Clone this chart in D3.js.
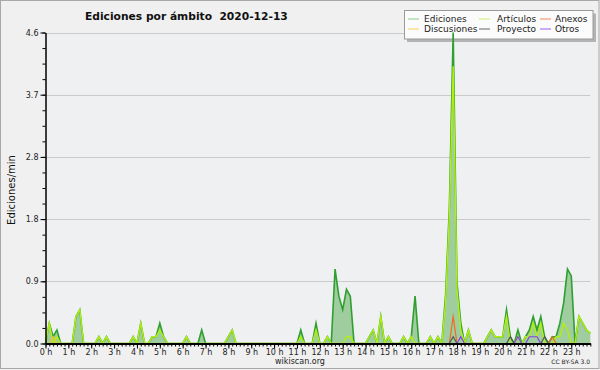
<!DOCTYPE html>
<html><head><meta charset="utf-8">
<script src="https://cdn.jsdelivr.net/npm/d3@7"></script>
<style>body{margin:0;background:#f0f0f0} svg{display:block}</style>
</head><body><svg id="c" width="600" height="370"></svg>
<script>
// ---- data: 10-minute buckets, edits per minute ----
const hourLabels = ["0 h","1 h","2 h","3 h","4 h","5 h","6 h","7 h","8 h","9 h","10 h","11 h",
  "12 h","13 h","14 h","15 h","16 h","17 h","18 h","19 h","20 h","21 h","22 h","23 h"];
const yTickValues = [0, 0.92, 1.84, 2.76, 3.68, 4.6];
const yTickLabels = ["0.0","0.9","1.8","2.8","3.7","4.6"];
const seriesNames = ["Ediciones","Discusiones","Artículos","Proyecto","Anexos","Otros"];

const ediciones = [
  0,0.3,0.1,0.2,0,0,0,0,0.4,0.5,0,0,
  0,0,0.1,0,0.1,0,0,0,0,0,0,0.1,
  0,0.3,0,0,0.1,0.1,0.3,0.1,0,0,0,0,
  0,0.1,0,0,0,0.2,0,0,0,0,0,0,
  0.1,0.2,0,0,0,0,0,0,0,0,0,0,
  0,0,0,0,0,0,0,0.2,0,0,0,0.3,
  0,0,0.1,0,1.1,0.7,0.5,0.8,0.7,0,0,0,
  0,0.1,0.2,0,0.4,0,0.1,0,0,0,0.1,0,
  0.1,0.7,0,0,0,0.1,0,0.1,0,0.7,2.0,4.6,
  0.9,0.3,0,0.2,0,0,0,0,0.1,0.2,0.1,0.1,
  0.1,0.5,0.1,0,0.2,0,0.1,0.2,0.4,0.2,0.4,0.1,
  0,0.1,0.1,0.3,0.6,1.1,1.0,0,0.4,0.3,0.2,0.15
];
const articulos = [
  0,0.3,0,0.1,0,0,0,0,0.4,0.5,0,0,
  0,0,0.1,0,0.1,0,0,0,0,0,0,0.1,
  0,0.3,0,0,0.1,0.1,0.2,0.1,0,0,0,0,
  0,0.1,0,0,0,0,0,0,0,0,0,0,
  0.1,0.2,0,0,0,0,0,0,0,0,0,0,
  0,0,0,0,0,0,0,0.1,0,0,0,0.2,
  0,0,0.1,0,0,0,0,0.1,0.1,0,0,0,
  0,0.1,0.2,0,0.4,0,0.1,0,0,0,0.1,0,
  0.1,0,0,0,0,0.1,0,0.1,0,0.6,1.9,4.1,
  0.8,0.2,0,0.2,0,0,0,0,0.1,0.2,0.1,0.1,
  0.1,0.4,0,0,0.1,0,0.1,0.1,0.3,0.1,0.3,0,
  0,0,0.1,0.1,0.3,0.2,0,0,0.4,0.3,0.2,0.15
];
const discusiones = [
  0,0,0.1,0,0,0,0,0,0,0,0,0,
  0,0,0,0,0,0,0,0,0,0,0,0,
  0,0,0,0,0,0,0,0,0,0,0,0,
  0,0,0,0,0,0,0,0,0,0,0,0,
  0,0,0,0,0,0,0,0,0,0,0,0,
  0,0,0,0,0,0,0,0,0,0,0,0,
  0,0,0,0,0,0,0,0,0,0,0,0,
  0,0,0,0,0,0,0,0,0,0,0,0,
  0,0,0,0,0,0,0,0,0,0,0,0,
  0,0,0,0,0,0,0,0,0,0,0,0,
  0,0,0,0,0,0,0,0,0,0,0,0,
  0,0,0,0,0,0,0,0,0,0,0,0
];
const anexos = [
  0,0,0,0,0,0,0,0,0,0,0,0,
  0,0,0,0,0,0,0,0,0,0,0,0,
  0,0,0,0,0,0,0,0,0,0,0,0,
  0,0,0,0,0,0,0,0,0,0,0,0,
  0,0,0,0,0,0,0,0,0,0,0,0,
  0,0,0,0,0,0,0,0,0,0,0,0,
  0,0,0,0,0,0,0,0,0,0,0,0,
  0,0,0,0,0,0,0,0,0,0,0,0,
  0,0,0,0,0,0,0,0,0,0,0,0.4,
  0,0,0,0,0,0,0,0,0,0,0,0,
  0,0,0,0,0,0,0,0,0,0,0,0,
  0,0.1,0,0,0,0,0,0,0,0,0,0
];
const proyecto = [
  0,0,0,0,0,0,0,0,0,0,0,0,
  0,0,0,0,0,0,0,0,0,0,0,0,
  0,0,0,0,0,0,0,0,0,0,0,0,
  0,0,0,0,0,0,0,0,0,0,0,0,
  0,0,0,0,0,0,0,0,0,0,0,0,
  0,0,0,0,0,0,0,0,0,0,0,0,
  0,0,0,0,0,0,0,0,0,0,0,0,
  0,0,0,0,0,0,0,0,0,0,0,0,
  0,0,0,0,0,0,0,0,0,0,0,0.1,
  0,0,0,0,0,0,0,0,0,0,0,0,
  0,0,0.1,0,0,0,0,0,0,0,0,0.1,
  0,0,0,0,0,0,0,0,0,0,0,0
];
const otros = [
  0,0,0,0,0,0,0,0,0,0,0,0,
  0,0,0,0,0,0,0,0,0,0,0,0,
  0,0,0,0,0,0,0,0,0,0,0,0,
  0,0,0,0,0,0,0,0,0,0,0,0,
  0,0,0,0,0,0,0,0,0,0,0,0,
  0,0,0,0,0,0,0,0,0,0,0,0,
  0,0,0,0,0,0,0,0,0,0,0,0,
  0,0,0,0,0,0,0,0,0,0,0,0,
  0,0,0,0,0,0,0,0,0,0,0,0,
  0,0.1,0,0,0,0,0,0,0,0,0,0,
  0,0,0,0,0.1,0,0,0.1,0.1,0.1,0,0,
  0,0,0,0,0,0,0,0,0,0,0,0
];

// ---- drawing ----
const svg = d3.select("#c");
const FONT = "DejaVu Sans, sans-serif";
const colors = {Ediciones:"#2f9f2f", Discusiones:"#f2c530", "Artículos":"#b2ee10",
  Proyecto:"#555555", Anexos:"#f26a1b", Otros:"#8a3cf0"};
const legendColors = {Ediciones:"#88cc88", Discusiones:"#f7d45a", "Artículos":"#cbef6a",
  Proyecto:"#666666", Anexos:"#f0845a", Otros:"#9a5cf0"};

const n = ediciones.length;
const x = d3.scaleLinear().domain([0, (n-1)/6]).range([45.5, 45.5 + (n-1)*3.81]);
const y = d3.scaleLinear().domain([0, 4.6]).range([343.5, 32.5]);

svg.append("rect").attr("width",600).attr("height",370).attr("fill","#f0f0f0");
svg.append("rect").attr("x",46).attr("y",32).attr("width",x.range()[1]-46).attr("height",311).attr("fill","#eef0f2");
svg.append("rect").attr("x",0.5).attr("y",0.5).attr("width",598.5).attr("height",368)
  .attr("fill","none").attr("stroke","#a8a8a8");

// gridlines
svg.append("g").selectAll("line").data(yTickValues.slice(1)).join("line")
  .attr("x1",46).attr("x2",x.range()[1]).attr("y1",d=>Math.round(y(d))+0.5).attr("y2",d=>Math.round(y(d))+0.5)
  .attr("stroke","#cacaca").attr("stroke-width",1);

// legend
const lg = svg.append("g");
lg.append("rect").attr("x",407).attr("y",13.5).attr("width",189).attr("height",28.5).attr("fill","#b4b4b4");
lg.append("rect").attr("x",404.5).attr("y",10.5).attr("width",188.5).attr("height",28.5)
  .attr("fill","#fbfbfb").attr("stroke","#9a9a9a");
const legendLayout = [
  {name:"Ediciones", col:0, row:0}, {name:"Discusiones", col:0, row:1},
  {name:"Artículos", col:1, row:0}, {name:"Proyecto", col:1, row:1},
  {name:"Anexos", col:2, row:0}, {name:"Otros", col:2, row:1}];
const colSw = [408, 479, 540], colTx = [424, 497, 555];
legendLayout.forEach(e=>{
  const cy = 19 + e.row*10;
  lg.append("line").attr("x1",colSw[e.col]).attr("x2",colSw[e.col]+11).attr("y1",cy).attr("y2",cy)
    .attr("stroke",legendColors[e.name]).attr("stroke-width",1);
  lg.append("text").attr("x",colTx[e.col]).attr("y",cy+3.2).text(e.name)
    .attr("font-family",FONT).attr("font-size",9).attr("fill","#222");
});

// area + lines
const line = d3.line().x((d,i)=>x(i/6)).y(d=>y(d));
const area = d3.area().x((d,i)=>x(i/6)).y0(y(0)).y1(d=>y(d));
svg.append("path").attr("d",area(ediciones)).attr("fill","#9fcd9f");
const series = [["Ediciones",ediciones,1.6],["Artículos",articulos,1.4],["Discusiones",discusiones,1.2],
  ["Anexos",anexos,1.2],["Proyecto",proyecto,1.2],["Otros",otros,1.2]];
series.forEach(([name,vals,w])=>{
  svg.append("path").attr("d",line(vals)).attr("fill","none").attr("stroke",colors[name])
    .attr("stroke-width",w).attr("stroke-linejoin","miter").attr("stroke-miterlimit",10);
});

// axes
const styleAxis = g => { g.selectAll("path,line").attr("stroke","#000"); g.selectAll("text").attr("font-family",FONT).attr("font-size",8).attr("fill","#222"); };
const minorY = d3.range(0, 4.6001, 0.23);
svg.append("g").attr("transform","translate(45.5,0)")
  .call(d3.axisLeft(y).tickValues(minorY).tickSize(3).tickFormat("").tickSizeOuter(0))
  .call(styleAxis).call(g=>g.select(".domain").remove());
svg.append("g").attr("transform","translate(45.5,0)")
  .call(d3.axisLeft(y).tickValues(yTickValues).tickSize(5).tickPadding(2).tickFormat((d,i)=>yTickLabels[i]).tickSizeOuter(0))
  .call(styleAxis).call(g=>g.select(".domain").attr("stroke-width",1.5));
const minorX = d3.range(n).map(i=>i/6);
svg.append("g").attr("transform","translate(0,343.5)")
  .call(d3.axisBottom(x).tickValues(minorX).tickSize(3).tickFormat("").tickSizeOuter(0))
  .call(styleAxis).call(g=>g.select(".domain").attr("stroke-width",2));
svg.append("g").attr("transform","translate(0,343.5)")
  .call(d3.axisBottom(x).tickValues(d3.range(hourLabels.length)).tickSize(5).tickPadding(1).tickFormat((d,i)=>hourLabels[i]).tickSizeOuter(0))
  .call(styleAxis).call(g=>g.select(".domain").remove());

// texts
svg.append("text").attr("x",85).attr("y",20).text("Ediciones por ámbito  2020-12-13")
  .attr("font-family",FONT).attr("font-weight","bold").attr("font-size",10.7).attr("fill","#111")
  .style("white-space","pre");
svg.append("text").attr("transform","translate(15,190) rotate(-90)").attr("text-anchor","middle")
  .text("Ediciones/min").attr("font-family",FONT).attr("font-size",10).attr("fill","#111");
svg.append("text").attr("x",300).attr("y",364).attr("text-anchor","middle").text("wikiscan.org")
  .attr("font-family",FONT).attr("font-size",8).attr("fill","#222");
svg.append("text").attr("x",590).attr("y",364).attr("text-anchor","end").text("CC BY-SA 3.0")
  .attr("font-family",FONT).attr("font-size",6).attr("fill","#222").style("white-space","pre");
</script></body></html>
